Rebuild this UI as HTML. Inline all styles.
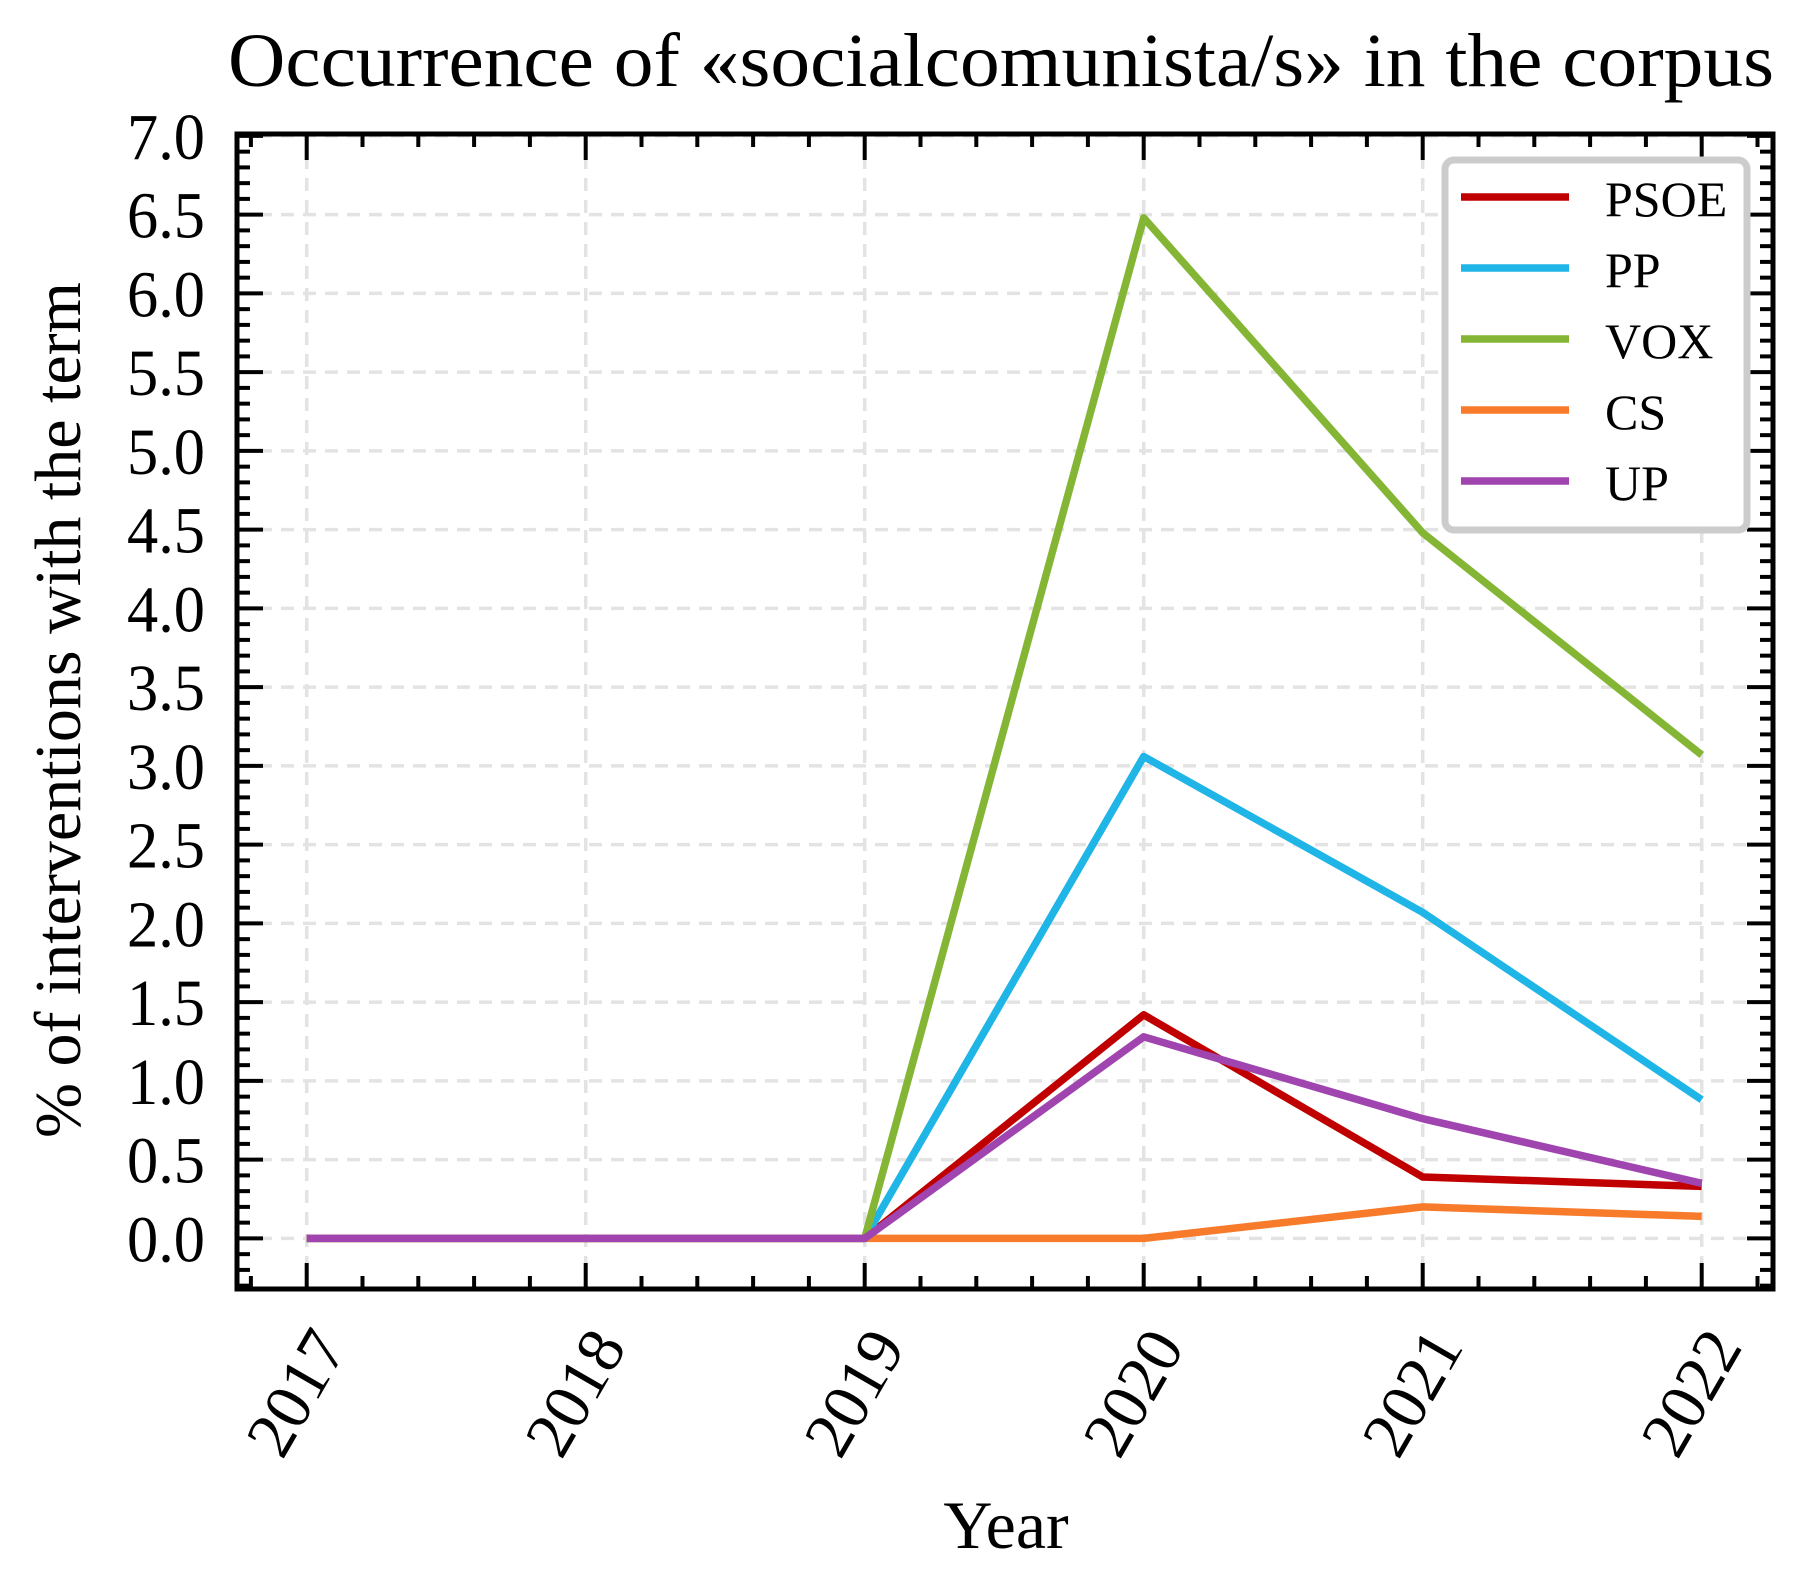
<!DOCTYPE html>
<html><head><meta charset="utf-8"><style>
html,body{margin:0;padding:0;background:#fff;}
svg{display:block;font-family:"Liberation Serif",serif;}
</style></head><body>
<svg id="chart" width="1811" height="1590" viewBox="0 0 1811 1590" xmlns="http://www.w3.org/2000/svg">
<text x="1001" y="86" font-size="76" text-anchor="middle" textLength="1546" lengthAdjust="spacingAndGlyphs">Occurrence of «socialcomunista/s» in the corpus</text>
<g id="grid"></g>
<g id="series"></g>
<g id="axes"></g>
<text transform="translate(80,710) rotate(-90)" font-size="66" text-anchor="middle">% of interventions with the term</text>
<text x="1006" y="1548" font-size="68" text-anchor="middle">Year</text>
<g id="legend"></g>
</svg>
<script>
const years = [2017, 2018, 2019, 2020, 2021, 2022];
const seriesNames = ["PSOE", "PP", "VOX", "CS", "UP"];
const psoe = [0, 0, 0, 1.42, 0.39, 0.33];
const pp = [0, 0, 0, 3.06, 2.07, 0.88];
const vox = [0, 0, 0, 6.48, 4.48, 3.07];
const cs = [0, 0, 0, 0, 0.20, 0.14];
const up = [0, 0, 0, 1.28, 0.76, 0.35];
const yTicks = [0.0, 0.5, 1.0, 1.5, 2.0, 2.5, 3.0, 3.5, 4.0, 4.5, 5.0, 5.5, 6.0, 6.5, 7.0];
const yTickLabels = ["0.0","0.5","1.0","1.5","2.0","2.5","3.0","3.5","4.0","4.5","5.0","5.5","6.0","6.5","7.0"];

const NS = "http://www.w3.org/2000/svg";
const colors = ["#c00000", "#1fb5e6", "#84b534", "#f77b2b", "#a044b0"];
const allSeries = [psoe, pp, vox, cs, up];
const L = 237, R = 1773, T = 134, B = 1289;
function xs(v){ return 306.7 + (v - 2017) * 279; }
function ys(v){ return 1238.4 - v * 157.5; }
function mk(tag, attrs, parent){ const e = document.createElementNS(NS, tag); for (const k in attrs) e.setAttribute(k, attrs[k]); parent.appendChild(e); return e; }

const grid = document.getElementById('grid');
years.forEach(y => {
  const l = mk('line', {x1: xs(y), x2: xs(y), y1: T, y2: B, stroke: '#e3e3e3', 'stroke-width': 3.5, 'stroke-dasharray': '13 9'}, grid);
  
  
});
yTicks.forEach(v => {
  const l = mk('line', {x1: L, x2: R, y1: ys(v), y2: ys(v), stroke: '#e3e3e3', 'stroke-width': 3.5, 'stroke-dasharray': '13 9'}, grid);
  
  
});

const sg = document.getElementById('series');
allSeries.forEach((s, i) => {
  const pts = s.map((v, j) => xs(years[j]).toFixed(1) + ',' + ys(v).toFixed(1)).join(' ');
  const p = mk('polyline', {points: pts, fill: 'none', stroke: colors[i], 'stroke-width': 7.5, 'stroke-linejoin': 'round', 'stroke-linecap': 'butt'}, sg);
  
  
});

const ax = document.getElementById('axes');
for (let k = -3; k <= 70; k++) {
  const v = k / 10, y = ys(v);
  if (y > B - 2 || y < T + 1) continue;
  const major = k % 5 === 0;
  const len = major ? 26 : 13;
  mk('line', {x1: L, x2: L + len, y1: y, y2: y, stroke: '#000', 'stroke-width': 4}, ax);
  mk('line', {x1: R, x2: R - len, y1: y, y2: y, stroke: '#000', 'stroke-width': 4}, ax);
}
for (let k = -1; k <= 26; k++) {
  const v = 2017 + k / 5, x = xs(v);
  if (x < L + 2 || x > R - 2) continue;
  const major = k % 5 === 0;
  const len = major ? 26 : 13;
  mk('line', {x1: x, x2: x, y1: B, y2: B - len, stroke: '#000', 'stroke-width': 4}, ax);
  mk('line', {x1: x, x2: x, y1: T, y2: T + len, stroke: '#000', 'stroke-width': 4}, ax);
}
const frame = mk('rect', {x: L, y: T, width: R - L, height: B - T, fill: 'none', stroke: '#000', 'stroke-width': 5}, ax);


yTicks.forEach((v, i) => {
  const t = mk('text', {x: 205, y: ys(v) + 23, 'font-size': 66, 'text-anchor': 'end', textLength: 78, lengthAdjust: 'spacingAndGlyphs'}, ax);
  t.textContent = yTickLabels[i];
  
  
});
years.forEach(yr => {
  const cx = xs(yr) - 10, cy = 1393;
  const t = mk('text', {x: cx, y: cy, 'font-size': 66, 'text-anchor': 'middle', 'dominant-baseline': 'central', transform: 'rotate(-60 ' + cx + ' ' + cy + ')'}, ax);
  t.textContent = String(yr);
  
  
});

const lg = document.getElementById('legend');
const box = mk('rect', {x: 1445, y: 160, width: 302, height: 370, rx: 9, fill: '#fff', stroke: '#cccccc', 'stroke-width': 7}, lg);


seriesNames.forEach((n, i) => {
  const y = 197 + i * 71;
  const l = mk('line', {x1: 1461, x2: 1569, y1: y, y2: y, stroke: colors[i], 'stroke-width': 7.5}, lg);
  
  
  const t = mk('text', {x: 1605, y: y + 19, 'font-size': 50}, lg);
  t.textContent = n;
  
  
});
</script>
</body></html>
